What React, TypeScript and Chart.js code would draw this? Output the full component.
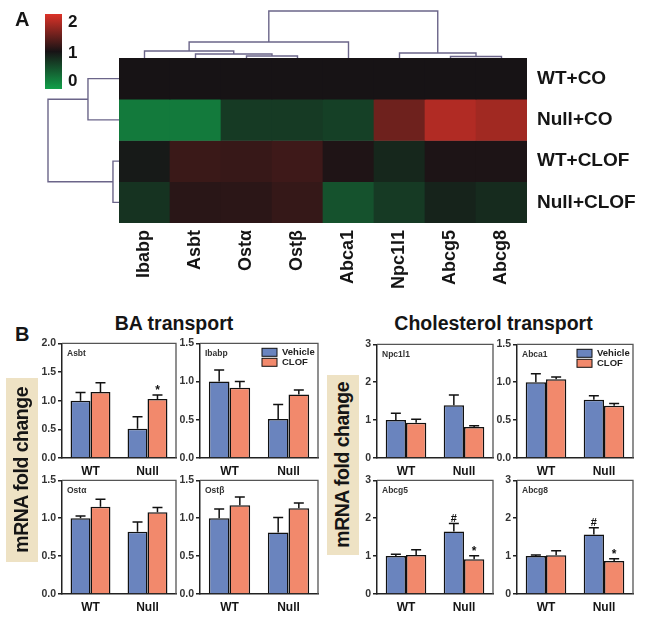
import React, { useEffect, useRef } from 'react';
import { Chart, registerables } from 'chart.js';
Chart.register(...registerables);

const FONT = '"Liberation Sans", Arial, Helvetica, sans-serif';

// ---------- Panel A: heatmap ----------
const GENES = ['Ibabp', 'Asbt', 'Ostα', 'Ostβ', 'Abca1', 'Npc1l1', 'Abcg5', 'Abcg8'];
const GROUPS = ['WT+CO', 'Null+CO', 'WT+CLOF', 'Null+CLOF'];
const HEAT_WT_CO = [1, 1, 1, 1, 1, 1, 1, 1];
const HEAT_NULL_CO = [0.27, 0.27, 0.72, 0.72, 0.68, 1.44, 1.78, 1.7];
const HEAT_WT_CLOF = [0.95, 1.18, 1.16, 1.2, 1.04, 0.86, 1.03, 1.03];
const HEAT_NULL_CLOF = [0.77, 1.09, 1.1, 1.15, 0.55, 0.72, 0.89, 0.83];
const COLORBAR_TICKS = ['2', '1', '0'];
// dendrogram merges: [nodeA, nodeB, height]; node ids < leaves are leaves, later ids are earlier merges
const COL_MERGES = [[2, 3, 0.043], [1, 8, 0.085], [0, 9, 0.149], [10, 4, 0.34], [6, 7, 0.032], [5, 12, 0.106], [11, 13, 1]];
const ROW_MERGES = [[0, 1, 0.437], [2, 3, 0.085], [4, 5, 1]];

// ---------- Panel B: bar charts ----------
const CONDITIONS = ['WT', 'Null'];
const SERIES = ['Vehicle', 'CLOF'];
const ASBT_VEH = [1.0, 0.51]; const ASBT_VEH_ERR = [0.14, 0.21];
const ASBT_CLOF = [1.15, 1.03]; const ASBT_CLOF_ERR = [0.16, 0.07];
const IBABP_VEH = [1.0, 0.51]; const IBABP_VEH_ERR = [0.15, 0.19];
const IBABP_CLOF = [0.92, 0.83]; const IBABP_CLOF_ERR = [0.08, 0.06];
const OSTA_VEH = [1.0, 0.82]; const OSTA_VEH_ERR = [0.03, 0.13];
const OSTA_CLOF = [1.15, 1.08]; const OSTA_CLOF_ERR = [0.1, 0.06];
const OSTB_VEH = [1.0, 0.81]; const OSTB_VEH_ERR = [0.12, 0.2];
const OSTB_CLOF = [1.17, 1.13]; const OSTB_CLOF_ERR = [0.11, 0.07];
const NPC_VEH = [1.0, 1.39]; const NPC_VEH_ERR = [0.18, 0.27];
const NPC_CLOF = [0.93, 0.82]; const NPC_CLOF_ERR = [0.09, 0.03];
const ABCA1_VEH = [1.0, 0.77]; const ABCA1_VEH_ERR = [0.11, 0.05];
const ABCA1_CLOF = [1.04, 0.69]; const ABCA1_CLOF_ERR = [0.03, 0.03];
const ABCG5_VEH = [1.0, 1.65]; const ABCG5_VEH_ERR = [0.05, 0.21];
const ABCG5_CLOF = [1.03, 0.92]; const ABCG5_CLOF_ERR = [0.14, 0.09];
const ABCG8_VEH = [1.0, 1.57]; const ABCG8_VEH_ERR = [0.03, 0.18];
const ABCG8_CLOF = [1.02, 0.87]; const ABCG8_CLOF_ERR = [0.12, 0.06];

const VEH_COLOR = '#6a84be';
const CLOF_COLOR = '#f2896c';

function mix(a: number[], b: number[], t: number) {
  return `rgb(${a.map((v, i) => Math.round(v + (b[i] - v) * t)).join(',')})`;
}
const C_BLACK = [23, 19, 21];
const C_GREEN = [18, 160, 74];
const C_RED = [220, 50, 40];
function heatColor(v: number) {
  return v <= 1 ? mix(C_BLACK, C_GREEN, 1 - v) : mix(C_BLACK, C_RED, Math.min(1, v - 1));
}

function drawDendro(ctx: CanvasRenderingContext2D, merges: number[][], leafPos: number[], base: number, px: number, top: boolean) {
  const pos = [...leafPos];
  const h = leafPos.map(() => 0);
  ctx.beginPath();
  merges.forEach(([a, b, ht]) => {
    const pa = pos[a], pb = pos[b];
    if (top) {
      ctx.moveTo(pa, base - h[a] * px); ctx.lineTo(pa, base - ht * px);
      ctx.lineTo(pb, base - ht * px); ctx.lineTo(pb, base - h[b] * px);
    } else {
      ctx.moveTo(base - h[a] * px, pa); ctx.lineTo(base - ht * px, pa);
      ctx.lineTo(base - ht * px, pb); ctx.lineTo(base - h[b] * px, pb);
    }
    pos.push((pa + pb) / 2);
    h.push(ht);
  });
  ctx.stroke();
}

const heatPlugin = {
  id: 'heatDecor',
  afterDraw(chart: any) {
    const ctx = chart.ctx as CanvasRenderingContext2D;
    const { left, top } = chart.chartArea;
    const xs = chart.scales.x, ys = chart.scales.y2;
    ctx.save();
    ctx.strokeStyle = '#6b6589';
    ctx.lineWidth = 1.4;
    drawDendro(ctx, COL_MERGES, GENES.map((_, i) => xs.getPixelForValue(i)), top, top - 11, true);
    drawDendro(ctx, ROW_MERGES, GROUPS.map((_, i) => ys.getPixelForValue(i)), left, left - 48, false);
    // colour key
    const cx = 45, cy = 14, cw = 17, ch = 75;
    const g = ctx.createLinearGradient(0, cy, 0, cy + ch);
    g.addColorStop(0, heatColor(2));
    g.addColorStop(0.5, heatColor(1));
    g.addColorStop(1, heatColor(0));
    ctx.fillStyle = g;
    ctx.fillRect(cx, cy, cw, ch);
    ctx.fillStyle = '#151515';
    ctx.font = `bold 17px ${FONT}`;
    ctx.textBaseline = 'middle';
    ctx.textAlign = 'left';
    const ly = [cy + 8, cy + ch / 2 + 2, cy + ch - 8];
    COLORBAR_TICKS.forEach((t, i) => ctx.fillText(t, 68, ly[i]));
    ctx.restore();
  },
};

function Heatmap() {
  const ref = useRef<HTMLCanvasElement>(null);
  useEffect(() => {
    const rows = [HEAT_WT_CO, HEAT_NULL_CO, HEAT_WT_CLOF, HEAT_NULL_CLOF];
    const chart = new Chart(ref.current as HTMLCanvasElement, {
      type: 'bar',
      data: {
        labels: GENES,
        datasets: rows.map((vals, ri) => ({
          label: GROUPS[ri],
          data: vals.map(() => 1),
          backgroundColor: vals.map(heatColor),
          borderWidth: 0,
          barPercentage: 1,
          categoryPercentage: 1,
        })),
      },
      options: {
        responsive: false,
        animation: false,
        events: [],
        layout: { padding: { left: 119, top: 58, right: 0, bottom: 0 } },
        plugins: { legend: { display: false }, tooltip: { enabled: false } },
        scales: {
          x: {
            stacked: true,
            grid: { display: false, drawTicks: false },
            border: { display: false },
            ticks: { minRotation: 90, maxRotation: 90, autoSkip: false, padding: 7, color: '#151515', font: { family: FONT, size: 18, weight: 'bold' } },
            afterFit: (s: any) => { s.height = 77; },
          },
          y: { stacked: true, reverse: true, min: 0, max: 4, display: false },
          y2: {
            type: 'category',
            labels: GROUPS,
            position: 'right',
            offset: true,
            grid: { display: false, drawTicks: false },
            border: { display: false },
            ticks: { padding: 10, color: '#151515', font: { family: FONT, size: 19, weight: 'bold' } },
            afterFit: (s: any) => { s.width = 118; },
          },
        },
      } as any,
      plugins: [heatPlugin],
    });
    return () => chart.destroy();
  }, []);
  return <canvas ref={ref} width={645} height={300} style={{ position: 'absolute', left: 0, top: 0, width: 645, height: 300 }} />;
}

// ---------- bar panels ----------
const prismPlugin = {
  id: 'prism',
  afterDraw(chart: any, _args: any, opts: any) {
    const ctx = chart.ctx as CanvasRenderingContext2D;
    const ys = chart.scales.y;
    const { left, right, top, bottom } = chart.chartArea;
    ctx.save();
    // frame top/right
    ctx.strokeStyle = '#555';
    ctx.lineWidth = 1.3;
    ctx.beginPath();
    ctx.moveTo(left, top); ctx.lineTo(right, top); ctx.lineTo(right, bottom);
    ctx.stroke();
    // error bars and marks
    ctx.strokeStyle = '#111';
    ctx.lineWidth = 1.5;
    chart.data.datasets.forEach((ds: any, di: number) => {
      const meta = chart.getDatasetMeta(di);
      meta.data.forEach((bar: any, i: number) => {
        const v = ds.data[i];
        const e = opts.errors[di][i];
        const y0 = ys.getPixelForValue(v);
        const y1 = ys.getPixelForValue(v + e);
        ctx.beginPath();
        ctx.moveTo(bar.x, y0); ctx.lineTo(bar.x, y1);
        ctx.moveTo(bar.x - 5, y1); ctx.lineTo(bar.x + 5, y1);
        ctx.stroke();
        (opts.marks || []).forEach((m: any) => {
          if (m.series === di && m.cond === i) {
            ctx.fillStyle = '#111';
            ctx.textAlign = 'center';
            ctx.textBaseline = 'alphabetic';
            ctx.font = `bold ${m.text === '*' ? 12 : 11}px ${FONT}`;
            ctx.fillText(m.text, bar.x, m.text === '*' ? y1 - 0.5 : y1 - 2);
          }
        });
      });
    });
    // gene title
    ctx.fillStyle = '#333';
    ctx.font = `bold 8.5px ${FONT}`;
    ctx.textAlign = 'left';
    ctx.textBaseline = 'middle';
    ctx.fillText(opts.gene, left + 5, top + 10);
    // legend
    if (opts.legend) {
      chart.data.datasets.forEach((ds: any, di: number) => {
        const bx = right - 56, by = top + 5 + di * 10;
        ctx.fillStyle = ds.backgroundColor;
        ctx.fillRect(bx, by, 15, 8);
        ctx.strokeStyle = '#111';
        ctx.lineWidth = 1;
        ctx.strokeRect(bx, by, 15, 8);
        ctx.fillStyle = '#222';
        ctx.font = `bold 9.5px ${FONT}`;
        ctx.textBaseline = 'middle';
        ctx.fillText(ds.label, bx + 20, by + 4.5);
      });
    }
    ctx.restore();
  },
};

type Mark = { series: number; cond: number; text: string };
type PanelSpec = {
  gene: string; veh: number[]; vehErr: number[]; clof: number[]; clofErr: number[];
  ymax: number; step: number; dec: number; legend?: boolean; marks?: Mark[];
  rect: [number, number, number, number];
};

const PANELS: PanelSpec[] = [
  { gene: 'Asbt', veh: ASBT_VEH, vehErr: ASBT_VEH_ERR, clof: ASBT_CLOF, clofErr: ASBT_CLOF_ERR, ymax: 2, step: 0.5, dec: 1, marks: [{ series: 1, cond: 1, text: '*' }], rect: [62, 343, 176, 458] },
  { gene: 'Ibabp', veh: IBABP_VEH, vehErr: IBABP_VEH_ERR, clof: IBABP_CLOF, clofErr: IBABP_CLOF_ERR, ymax: 1.5, step: 0.5, dec: 1, legend: true, rect: [200, 343, 318, 458] },
  { gene: 'Ostα', veh: OSTA_VEH, vehErr: OSTA_VEH_ERR, clof: OSTA_CLOF, clofErr: OSTA_CLOF_ERR, ymax: 1.5, step: 0.5, dec: 1, rect: [62, 480, 176, 594] },
  { gene: 'Ostβ', veh: OSTB_VEH, vehErr: OSTB_VEH_ERR, clof: OSTB_CLOF, clofErr: OSTB_CLOF_ERR, ymax: 1.5, step: 0.5, dec: 1, rect: [200, 480, 318, 594] },
  { gene: 'Npc1l1', veh: NPC_VEH, vehErr: NPC_VEH_ERR, clof: NPC_CLOF, clofErr: NPC_CLOF_ERR, ymax: 3, step: 1, dec: 0, rect: [377, 344, 493, 458] },
  { gene: 'Abca1', veh: ABCA1_VEH, vehErr: ABCA1_VEH_ERR, clof: ABCA1_CLOF, clofErr: ABCA1_CLOF_ERR, ymax: 1.5, step: 0.5, dec: 1, legend: true, rect: [517, 344, 633, 458] },
  { gene: 'Abcg5', veh: ABCG5_VEH, vehErr: ABCG5_VEH_ERR, clof: ABCG5_CLOF, clofErr: ABCG5_CLOF_ERR, ymax: 3, step: 1, dec: 0, marks: [{ series: 0, cond: 1, text: '#' }, { series: 1, cond: 1, text: '*' }], rect: [377, 480, 493, 594] },
  { gene: 'Abcg8', veh: ABCG8_VEH, vehErr: ABCG8_VEH_ERR, clof: ABCG8_CLOF, clofErr: ABCG8_CLOF_ERR, ymax: 3, step: 1, dec: 0, marks: [{ series: 0, cond: 1, text: '#' }, { series: 1, cond: 1, text: '*' }], rect: [517, 480, 633, 594] },
];

const AXW = 34, PADT = 8, PADR = 6, XAH = 24;

function BarPanel({ p }: { p: PanelSpec }) {
  const ref = useRef<HTMLCanvasElement>(null);
  const [l, t, r, b] = p.rect;
  const w = r - l + AXW + PADR;
  const h = b - t + PADT + XAH;
  useEffect(() => {
    const chart = new Chart(ref.current as HTMLCanvasElement, {
      type: 'bar',
      data: {
        labels: CONDITIONS,
        datasets: [
          { label: SERIES[0], data: p.veh, backgroundColor: VEH_COLOR, borderColor: '#111', borderWidth: 1.5, barPercentage: 1, categoryPercentage: 0.7 },
          { label: SERIES[1], data: p.clof, backgroundColor: CLOF_COLOR, borderColor: '#111', borderWidth: 1.5, barPercentage: 1, categoryPercentage: 0.7 },
        ],
      },
      options: {
        responsive: false,
        animation: false,
        events: [],
        layout: { padding: { left: 0, top: PADT, right: PADR, bottom: 0 } },
        plugins: {
          legend: { display: false },
          tooltip: { enabled: false },
          prism: { errors: [p.vehErr, p.clofErr], marks: p.marks, gene: p.gene, legend: !!p.legend },
        },
        scales: {
          x: {
            grid: { display: false, drawTicks: false },
            border: { display: true, color: '#222', width: 1.5 },
            ticks: { padding: 6, color: '#151515', font: { family: FONT, size: 12, weight: 'bold' } },
            afterFit: (s: any) => { s.height = XAH; },
          },
          y: {
            min: 0,
            max: p.ymax,
            ticks: { stepSize: p.step, padding: 2, color: '#333', font: { family: FONT, size: 10.5, weight: 'bold' }, callback: (v: any) => Number(v).toFixed(p.dec) },
            grid: { display: true, drawOnChartArea: false, drawTicks: true, tickLength: 4, color: '#222', lineWidth: 1.5 },
            border: { display: true, color: '#222', width: 1.5 },
            afterFit: (s: any) => { s.width = AXW; },
          },
        },
      } as any,
      plugins: [prismPlugin],
    });
    return () => chart.destroy();
  }, []);
  return <canvas ref={ref} width={w} height={h} style={{ position: 'absolute', left: l - AXW, top: t - PADT, width: w, height: h }} />;
}

const txt = (extra: React.CSSProperties): React.CSSProperties => ({
  position: 'absolute', fontFamily: FONT, fontWeight: 'bold', color: '#151515', lineHeight: 1, whiteSpace: 'nowrap', ...extra,
});

function YLabel({ left, top, height }: { left: number; top: number; height: number }) {
  return (
    <div style={{ position: 'absolute', left, top, width: 32, height, background: '#eee2c4', display: 'flex', alignItems: 'center', justifyContent: 'center' }}>
      <span style={{ writingMode: 'vertical-rl', transform: 'rotate(180deg)', fontFamily: FONT, fontWeight: 'bold', fontSize: 19.5, letterSpacing: -0.5, color: '#151515', whiteSpace: 'nowrap', lineHeight: 1 }}>
        mRNA fold change
      </span>
    </div>
  );
}

export default function App() {
  return (
    <div style={{ position: 'absolute', left: 0, top: 0, width: 645, height: 618, background: '#fff', overflow: 'hidden' }}>
      <Heatmap />
      <div style={txt({ left: 15, top: 9, fontSize: 20 })}>A</div>
      <div style={txt({ left: 15, top: 324, fontSize: 20 })}>B</div>
      <div style={txt({ left: 74, top: 313.5, width: 200, textAlign: 'center', fontSize: 19.5 })}>BA transport</div>
      <div style={txt({ left: 393.5, top: 313.5, width: 200, textAlign: 'center', fontSize: 19.5 })}>Cholesterol transport</div>
      <YLabel left={6} top={378} height={184} />
      <YLabel left={327} top={375} height={180} />
      {PANELS.map((p) => <BarPanel key={p.gene} p={p} />)}
    </div>
  );
}
